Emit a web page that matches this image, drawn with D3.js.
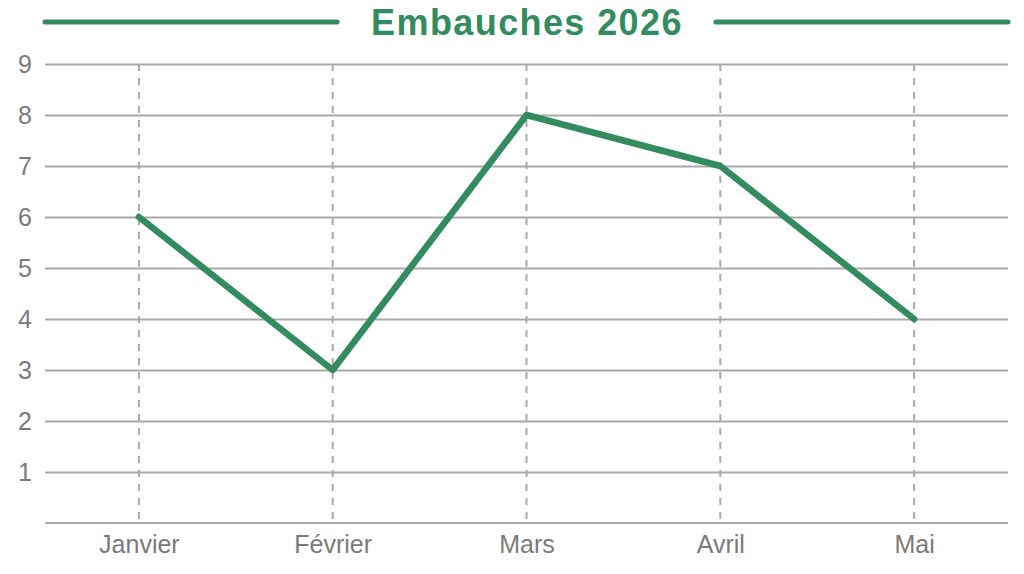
<!DOCTYPE html>
<html>
<head>
<meta charset="utf-8">
<script src="https://cdn.jsdelivr.net/npm/d3@7"></script>
<style>
  body { margin: 0; background: #fff; }
  svg { display: block; font-family: "Liberation Sans", Arial, sans-serif; }
</style>
</head>
<body>
<svg width="1024" height="574"></svg>
<script>
const months = ['Janvier', 'Février', 'Mars', 'Avril', 'Mai'];
const hires = [6, 3, 8, 7, 4];
const yTicks = [1, 2, 3, 4, 5, 6, 7, 8, 9];
const title = 'Embauches 2026';

const svg = d3.select('svg');
const width = +svg.attr('width');
const height = +svg.attr('height');
const green = '#338c5f';
const grey = '#a9a9a9';
const labelGrey = '#7a7a7a';

const margin = { left: 45, right: 16, top: 64, bottom: 51 };
const innerWidth = width - margin.left - margin.right;
const innerHeight = height - margin.top - margin.bottom;

const g = svg.append('g')
  .attr('transform', `translate(${margin.left}, ${margin.top})`);

// x: points centred in equal slots
const xScale = d3.scalePoint()
  .domain(months)
  .range([-3, innerWidth + 3])
  .padding(0.5);

const yScale = d3.scaleLinear()
  .domain([0, 9])
  .range([innerHeight, 0]);

// horizontal grid lines + y labels
const yAxisG = g.append('g')
  .call(d3.axisLeft(yScale).tickValues(yTicks).tickSize(-innerWidth).tickPadding(13));
yAxisG.attr('font-size', 25).attr('font-family', null);
yAxisG.select('.domain').remove();
yAxisG.selectAll('.tick line').attr('stroke', grey).attr('stroke-width', 2);
yAxisG.selectAll('.tick text').attr('fill', labelGrey);

// vertical dashed lines
g.selectAll('.vline').data(months)
  .enter().append('line')
    .attr('class', 'vline')
    .attr('x1', d => xScale(d))
    .attr('x2', d => xScale(d))
    .attr('y1', 0)
    .attr('y2', innerHeight)
    .attr('stroke', grey)
    .attr('stroke-width', 2)
    .attr('stroke-dasharray', '7,7');

// baseline + x labels
const xAxisG = g.append('g')
  .attr('transform', `translate(0, ${innerHeight})`)
  .call(d3.axisBottom(xScale).tickSize(0).tickPadding(12));
xAxisG.attr('font-size', 25).attr('font-family', null);
xAxisG.select('.domain')
  .attr('d', `M0,0H${innerWidth}`)
  .attr('stroke', grey)
  .attr('stroke-width', 2);
xAxisG.selectAll('.tick text').attr('fill', labelGrey);

// data line
const line = d3.line()
  .x((d, i) => xScale(months[i]))
  .y(d => yScale(d));

g.append('path')
  .datum(hires)
  .attr('d', line)
  .attr('fill', 'none')
  .attr('stroke', green)
  .attr('stroke-width', 6.5)
  .attr('stroke-linejoin', 'round')
  .attr('stroke-linecap', 'round');

// title with rules on both sides
const titleText = svg.append('text')
  .attr('x', 527)
  .attr('y', 35)
  .attr('text-anchor', 'middle')
  .attr('font-size', 36)
  .attr('font-weight', 'bold')
  .attr('letter-spacing', 1.4)
  .attr('fill', green)
  .text(title);

const tb = titleText.node().getBBox();
svg.append('line')
  .attr('x1', margin.left).attr('x2', tb.x - 34)
  .attr('y1', 22).attr('y2', 22)
  .attr('stroke', green).attr('stroke-width', 5).attr('stroke-linecap', 'round');
svg.append('line')
  .attr('x1', tb.x + tb.width + 33).attr('x2', width - margin.right)
  .attr('y1', 22).attr('y2', 22)
  .attr('stroke', green).attr('stroke-width', 5).attr('stroke-linecap', 'round');
</script>
</body>
</html>
